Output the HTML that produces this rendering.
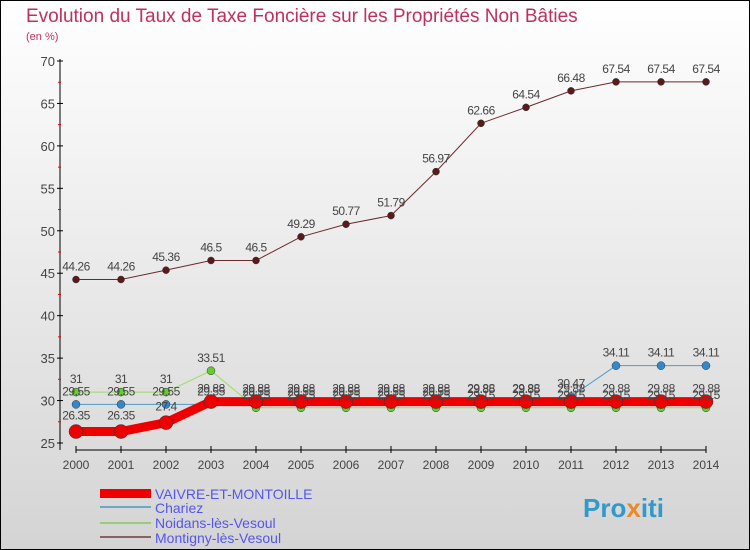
<!DOCTYPE html>
<html><head><meta charset="utf-8"><style>
body{margin:0;}
#c{width:750px;height:550px;position:relative;box-sizing:border-box;border:1px solid #000;background:linear-gradient(#ffffff,#d4d4d4);overflow:hidden;font-family:"Liberation Sans",sans-serif;}
</style></head><body>
<div id="c">
<svg id="s" width="750" height="550" style="position:absolute;left:-1px;top:-1px">
<text x="26" y="22" font-size="19" fill="#c0305a">Evolution du Taux de Taxe Foncière sur les Propriétés Non Bâties</text>
<text x="26" y="40" font-size="11" fill="#c0305a">(en %)</text>
<g id="axes"></g><g id="series"></g><g id="labels"></g>
<g>
<rect x="100" y="489" width="51" height="9" fill="#ee0000"/>
<text x="155" y="499" font-size="14" fill="#5555ee">VAIVRE-ET-MONTOILLE</text>
<rect x="100" y="506" width="51" height="2" fill="#6ea8c8"/>
<text x="155" y="513" font-size="14" fill="#5555ee">Chariez</text>
<rect x="100" y="522" width="51" height="2" fill="#99cc77"/>
<text x="155" y="528" font-size="14" fill="#5555ee">Noidans-lès-Vesoul</text>
<rect x="100" y="536" width="51" height="2" fill="#8a6060"/>
<text x="155" y="543" font-size="14" fill="#5555ee">Montigny-lès-Vesoul</text>
</g>
<text x="583" y="517" font-size="26" font-weight="bold" fill="#3399cc">Pro<tspan fill="#ee8822">x</tspan>iti</text>
</svg>
</div>
<script>
const years=[2000,2001,2002,2003,2004,2005,2006,2007,2008,2009,2010,2011,2012,2013,2014];
const vaivre=[26.35,26.35,27.4,29.88,29.88,29.88,29.88,29.88,29.88,29.88,29.88,29.88,29.88,29.88,29.88];
const chariez=[29.55,29.55,29.55,29.55,29.55,29.55,29.55,29.55,29.55,29.85,29.85,30.47,34.11,34.11,34.11];
const noidans=[31,31,31,33.51,29.15,29.15,29.15,29.15,29.15,29.15,29.15,29.15,29.15,29.15,29.15];
const montigny=[44.26,44.26,45.36,46.5,46.5,49.29,50.77,51.79,56.97,62.66,64.54,66.48,67.54,67.54,67.54];
const yTicks=[25,30,35,40,45,50,55,60,65,70];
const NS="http://www.w3.org/2000/svg";
const X=i=>76+i*45;
const Y=v=>443-(v-25)*(382/45);
function mk(p,t,a){const e=document.createElementNS(NS,t);for(const k in a)e.setAttribute(k,a[k]);p.appendChild(e);return e;}
const ax=document.getElementById('axes'),sg=document.getElementById('series'),lg=document.getElementById('labels');
let e=mk(ax,'line',{x1:60,y1:Y(70)-2,x2:60,y2:450,stroke:'#000'});


e=mk(ax,'line',{x1:76,y1:450,x2:706,y2:450,stroke:'#000'});


yTicks.forEach((t,i)=>{
 mk(ax,'line',{x1:57,y1:Y(t),x2:63,y2:Y(t),stroke:'#000'});
 if(i<yTicks.length-1)mk(ax,'line',{x1:58,y1:Y(t+2.5),x2:61,y2:Y(t+2.5),stroke:'#e00'});
 const tx=mk(ax,'text',{x:55,y:Y(t)+5,'font-size':13,fill:'#444','text-anchor':'end'});
 tx.textContent=t;
 
 
});
years.forEach((yr,i)=>{
 mk(ax,'line',{x1:X(i),y1:446,x2:X(i),y2:453,stroke:'#000'});
 const tx=mk(ax,'text',{x:X(i),y:469,'font-size':12,fill:'#444','text-anchor':'middle'});
 tx.textContent=yr;
 
 
});
function draw(arr,name,col,dot,w,r,off){
 const pts=arr.map((v,i)=>X(i)+','+Y(v)).join(' ');
 const pl=mk(sg,'polyline',{points:pts,fill:'none',stroke:col,'stroke-width':w,'stroke-linejoin':'round'});
 
 
 arr.forEach((v,i)=>{
  const c=mk(sg,'circle',{cx:X(i),cy:Y(v),r:r,fill:dot,stroke:'#333','stroke-width':0.5});
  
  
  const t=mk(lg,'text',{x:X(i),y:Y(v)+off(i),'font-size':12,fill:'#444','text-anchor':'middle','letter-spacing':'-0.5'});
  t.textContent=v;
  
  
 });
}
draw(montigny,'montigny','#6b2a2a','#5a1a1a',1,3.5,()=>-9);
draw(noidans,'noidans','#99dd66','#66cc33',1,4,()=>-9);
draw(chariez,'chariez','#5599cc','#3388cc',1,4,()=>-9);
draw(vaivre,'vaivre','#ee0000','#ee0000',9,7,i=>i<3?-12:-9);
</script>
</body></html>
